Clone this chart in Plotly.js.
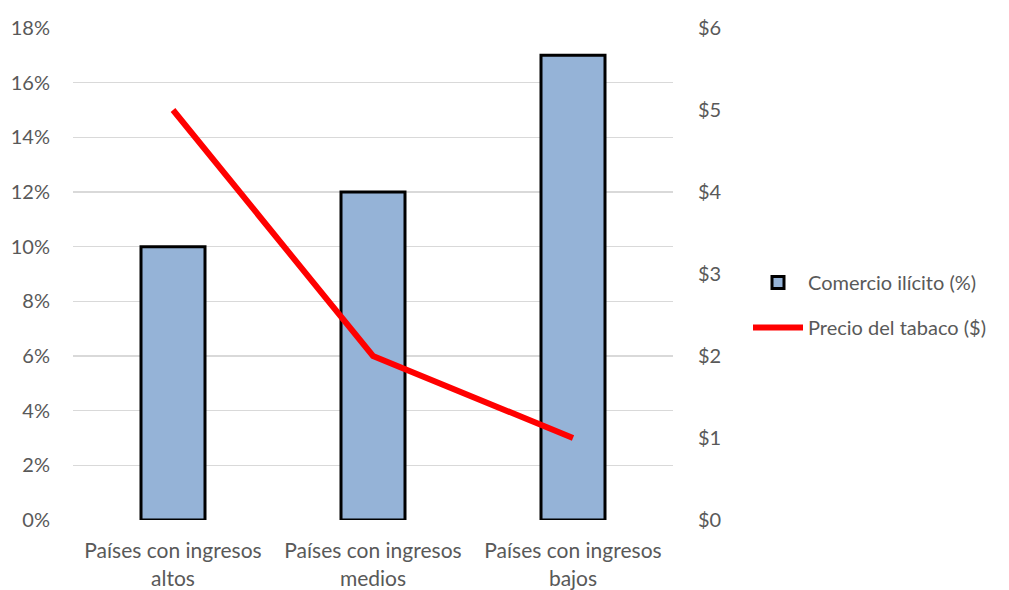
<!DOCTYPE html>
<html>
<head>
<meta charset="utf-8">
<script src="https://cdn.plot.ly/plotly-3.0.1.min.js"></script>
<style>
  html, body { margin: 0; padding: 0; background: #fff; }
  #chart { width: 1009px; height: 590px; }
</style>
</head>
<body>
<div id="chart"></div>
<script>
// Income groups and the two series plotted against them
const categories = [
  'Países con ingresos<br>altos',
  'Países con ingresos<br>medios',
  'Países con ingresos<br>bajos'
];
const illicitTradePct = [10, 12, 17];   // left axis, %
const tobaccoPrice = [5, 2, 1];         // right axis, $

const pctTicks = [0, 2, 4, 6, 8, 10, 12, 14, 16, 18];
const priceTicks = [0, 1, 2, 3, 4, 5, 6];

const fontFamily = 'Lato, Open Sans, sans-serif';
const fontSize = 20;
const textColor = '#595959';

const traces = [
  {
    type: 'bar',
    name: 'Comercio ilícito (%)',
    legendgroup: 'bars',
    x: categories,
    y: illicitTradePct,
    marker: { color: '#95b3d7', line: { color: '#000000', width: 3 } },
    yaxis: 'y'
  },
  {
    type: 'scatter',
    mode: 'lines',
    name: 'Precio del tabaco ($)',
    legendgroup: 'line',
    x: categories,
    y: tobaccoPrice,
    line: { color: '#ff0000', width: 6 },
    yaxis: 'y2'
  }
];

const layout = {
  width: 1009,
  height: 590,
  margin: { l: 73, r: 336, t: 28, b: 70 },
  paper_bgcolor: '#ffffff',
  plot_bgcolor: '#ffffff',
  font: { family: fontFamily, size: fontSize, color: textColor },
  bargap: 0.68,
  showlegend: true,
  legend: {
    x: 1.125, xanchor: 'left',
    y: 0.437, yanchor: 'middle',
    font: { family: fontFamily, size: fontSize, color: textColor },
    itemwidth: 50,
    tracegroupgap: 16,
    bgcolor: 'rgba(0,0,0,0)'
  },
  xaxis: {
    type: 'category',
    showgrid: false,
    showline: false,
    zeroline: false,
    ticks: 'outside',
    ticklen: 12,
    tickcolor: 'rgba(0,0,0,0)',
    tickfont: { family: fontFamily, size: 21, color: textColor }
  },
  yaxis: {
    range: [0, 18],
    tickvals: pctTicks,
    ticktext: pctTicks.map(v => v + '%'),
    showgrid: true,
    gridcolor: '#d9d9d9',
    gridwidth: 1.5,
    zeroline: false,
    showline: false,
    ticks: 'outside',
    ticklen: 18,
    tickcolor: 'rgba(0,0,0,0)',
    tickfont: { family: fontFamily, size: fontSize, color: textColor }
  },
  yaxis2: {
    overlaying: 'y',
    side: 'right',
    range: [0, 6],
    tickvals: priceTicks,
    ticktext: priceTicks.map(v => '$' + v),
    showgrid: false,
    zeroline: false,
    showline: false,
    ticks: 'outside',
    ticklen: 20,
    tickcolor: 'rgba(0,0,0,0)',
    tickfont: { family: fontFamily, size: fontSize, color: textColor }
  }
};

Plotly.newPlot('chart', traces, layout, { staticPlot: true, displayModeBar: false });
</script>
</body>
</html>
